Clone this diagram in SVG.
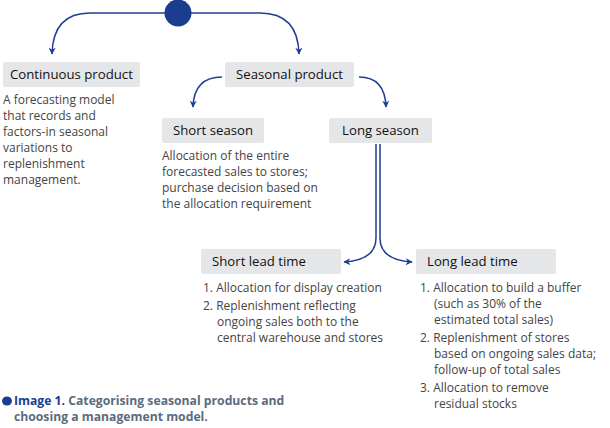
<svg xmlns="http://www.w3.org/2000/svg" width="610" height="428" viewBox="0 0 610 428">
<style>
.b{fill:#e5e6e8}
.h{font-family:"Open Sans","Liberation Sans",sans-serif;font-size:13.2px;fill:#111}
.t{font-family:"Open Sans","Liberation Sans",sans-serif;font-size:12px;fill:#444}
.c{fill:none;stroke:#1d3f91;stroke-width:1.5}
</style>
<defs><marker id="a" viewBox="0 0 10 10" refX="9" refY="5" markerWidth="7" markerHeight="7" orient="auto" markerUnits="userSpaceOnUse"><path d="M0,0L10,5L0,10L3,5Z" fill="#1d3f91"/></marker></defs>
<rect width="610" height="428" fill="#fff"/>
<g id="connectors">
<path class="c" d="M166,13H90Q53,13 52,54" marker-end="url(#a)"/>
<path class="c" d="M190,13H260Q298,13 299,54" marker-end="url(#a)"/>
<path class="c" d="M222,77Q194,77 193,107" marker-end="url(#a)"/>
<path class="c" d="M359,77Q385,77 386,107" marker-end="url(#a)"/>
<path class="c" d="M376,144V238Q376,260 344,262" marker-end="url(#a)"/>
<path class="c" d="M380,144V238Q380,260 412,262" marker-end="url(#a)"/>
</g>
<g id="root"><circle cx="178" cy="13" r="13.5" fill="#1a3d8f"/></g>
<g id="continuous"><rect class="b" x="3" y="62" width="137" height="25" rx="2"/><text class="h" x="10" y="79">Continuous product</text>
<text class="t"><tspan x="3" y="104">A forecasting model</tspan><tspan x="3" y="120">that records and</tspan><tspan x="3" y="136">factors-in seasonal</tspan><tspan x="3" y="152">variations to</tspan><tspan x="3" y="168">replenishment</tspan><tspan x="3" y="184">management.</tspan></text></g>
<g id="seasonal"><rect class="b" x="225" y="62" width="129" height="25" rx="2"/><text class="h" x="289.5" y="79" text-anchor="middle">Seasonal product</text></g>
<g id="shortseason"><rect class="b" x="162" y="118" width="102" height="25" rx="2"/><text class="h" x="213" y="135" text-anchor="middle">Short season</text>
<text class="t"><tspan x="162" y="160">Allocation of the entire</tspan><tspan x="162" y="176">forecasted sales to stores;</tspan><tspan x="162" y="192">purchase decision based on</tspan><tspan x="162" y="208">the allocation requirement</tspan></text></g>
<g id="longseason"><rect class="b" x="329" y="118" width="103" height="25" rx="2"/><text class="h" x="380.5" y="135" text-anchor="middle">Long season</text></g>
<g id="shortlead"><rect class="b" x="201" y="249" width="140" height="25" rx="2"/><text class="h" x="212" y="266">Short lead time</text>
<text class="t"><tspan x="203" y="292">1. Allocation for display creation</tspan><tspan x="203" y="310">2. Replenishment reflecting</tspan><tspan x="217" y="326">ongoing sales both to the</tspan><tspan x="217" y="342">central warehouse and stores</tspan></text></g>
<g id="longlead"><rect class="b" x="416" y="249" width="140" height="25" rx="2"/><text class="h" x="427" y="266">Long lead time</text>
<text class="t"><tspan x="420" y="292">1. Allocation to build a buffer</tspan><tspan x="434" y="308">(such as 30% of the</tspan><tspan x="434" y="324">estimated total sales)</tspan><tspan x="420" y="342">2. Replenishment of stores</tspan><tspan x="434" y="358">based on ongoing sales data;</tspan><tspan x="434" y="374">follow-up of total sales</tspan><tspan x="420" y="392">3. Allocation to remove</tspan><tspan x="434" y="408">residual stocks</tspan></text></g>
<g id="caption"><ellipse cx="7" cy="401" rx="5" ry="4.5" fill="#1a3d8f"/>
<text font-family="'Open Sans','Liberation Sans',sans-serif" font-size="12.2" font-weight="bold" fill="#5b6b80"><tspan x="14" y="405" fill="#1a3d8f">Image 1.</tspan><tspan> Categorising seasonal products and</tspan><tspan x="14" y="421">choosing a management model.</tspan></text></g>
</svg>
